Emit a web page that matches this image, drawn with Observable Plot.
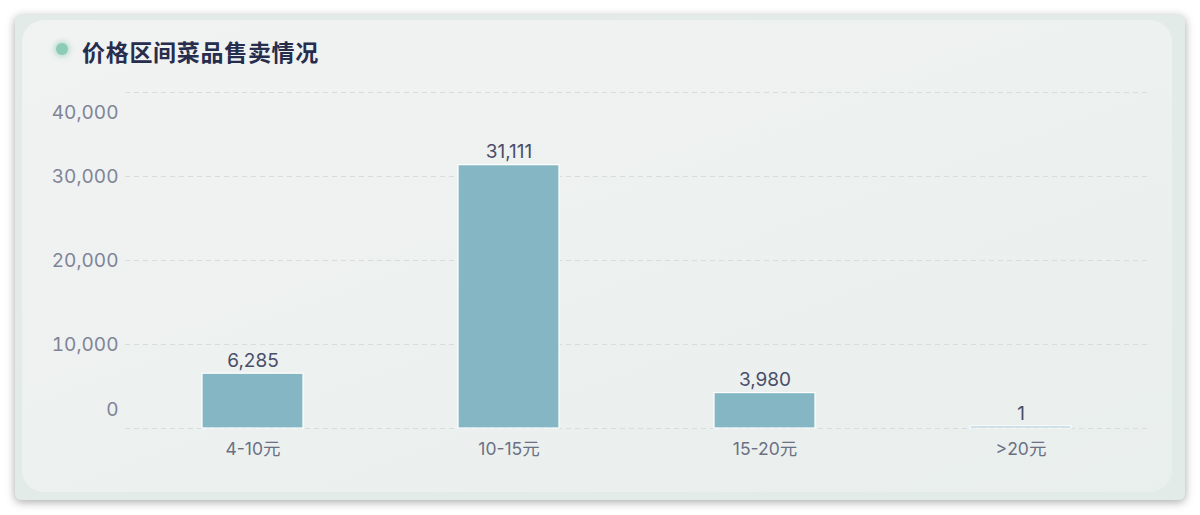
<!DOCTYPE html>
<html>
<head>
<meta charset="utf-8">
<script src="https://cdn.jsdelivr.net/npm/d3@7"></script>
<script src="https://cdn.jsdelivr.net/npm/@observablehq/plot@0.6"></script>
<style>
  html, body { margin: 0; padding: 0; background: #ffffff; width: 1200px; height: 515px; overflow: hidden; }
  body { font-family: "Noto Sans CJK SC", "Noto Sans", sans-serif; }
  .card {
    position: absolute; left: 15px; top: 15px; width: 1170px; height: 485px;
    border-radius: 6px; background: #e3ebe8;
    box-shadow: 0 2px 10px rgba(0,0,0,0.35);
  }
  .panel {
    position: absolute; left: 7px; top: 5px; width: 1150px; height: 472px;
    border-radius: 22px;
    background: linear-gradient(160deg, #f1f3f2 0%, #edf1f0 45%, #e9efed 100%);
  }
  .title {
    position: absolute; left: 82px; top: 35px; font-size: 23px; font-weight: 700;
    color: #272d4d; letter-spacing: 0.7px; line-height: 32px;
  }
  .dot {
    position: absolute; left: 56px; top: 43px; width: 12px; height: 12px; border-radius: 50%;
    background: #8ccbb7; box-shadow: 0 0 5px 2px rgba(140,203,183,0.55);
  }
  #chart { position: absolute; left: 0; top: 70px; }
</style>
</head>
<body>
<div class="card"><div class="panel"></div></div>
<div class="dot"></div>
<div class="title">价格区间菜品售卖情况</div>
<div id="chart"></div>
<script>
const categories = ["4-10元", "10-15元", "15-20元", ">20元"];
const values = [6285, 31111, 3980, 1];
const yTicks = [0, 10000, 20000, 30000, 40000];

const data = categories.map((c, i) => ({ category: c, value: values[i] }));
const fmt = d3.format(",");
const numFont = "Inter, \"Noto Sans CJK SC\", sans-serif";

const plot = Plot.plot({
  width: 1200,
  height: 410,
  marginLeft: 125,
  marginRight: 51,
  marginTop: 22,
  marginBottom: 52,
  style: { background: "transparent", fontFamily: numFont, overflow: "visible" },
  x: { domain: categories, paddingInner: 0.605, paddingOuter: 0.3025, label: null },
  y: { domain: [0, 40000], label: null },
  marks: [
    Plot.ruleY(yTicks, { stroke: "#d6dcdf", strokeWidth: 1, strokeDasharray: "5,4" }),
    Plot.barY(data, {
      x: "category", y: "value", fill: "#84b6c3", stroke: "#ffffff", strokeWidth: 1.2, insetTop: -2
    }),
    Plot.text(data, {
      x: "category", y: "value", text: d => fmt(d.value), dy: -15,
      fill: "#4a4e68", fontSize: 19, lineAnchor: "middle"
    }),
    Plot.axisX({ tickSize: 0, tickPadding: 14, fontSize: 17.5, color: "#6b7083", label: null }),
    Plot.axisY({ ticks: [10000, 20000, 30000], tickFormat: fmt, tickSize: 0, tickPadding: 7, fontSize: 19, color: "#7f8497", label: null }),
    Plot.axisY({ ticks: [40000], tickFormat: fmt, tickSize: 0, tickPadding: 7, fontSize: 19, color: "#7f8497", label: null, dy: 20 }),
    Plot.axisY({ ticks: [0], tickFormat: fmt, tickSize: 0, tickPadding: 7, fontSize: 19, color: "#7f8497", label: null, dy: -19 })
  ]
});
document.getElementById("chart").appendChild(plot);
</script>
</body>
</html>
